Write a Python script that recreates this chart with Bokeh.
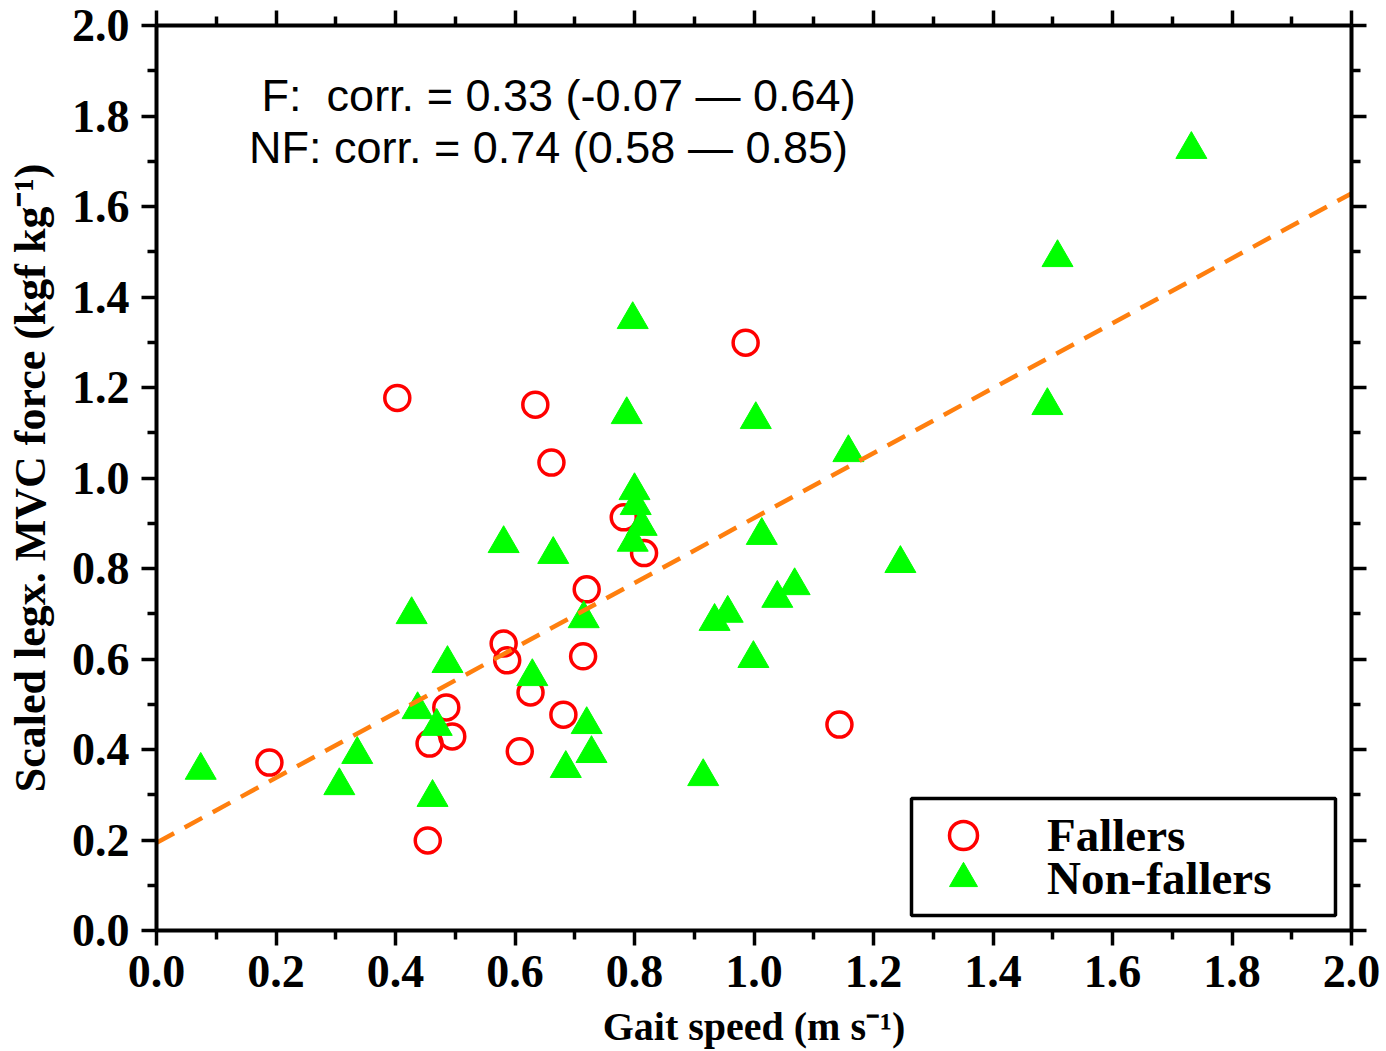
from bokeh.plotting import figure
from bokeh.models import (Range1d, FixedTicker, LinearAxis, Label, Legend,
                          LegendItem, CustomJSTickFormatter, BoxAnnotation)
from bokeh.embed import file_html
from bokeh.resources import INLINE

# ---------------- data ----------------
fallers_x = [0.189, 0.403, 0.454, 0.457, 0.485, 0.495, 0.581, 0.587, 0.608, 0.626,
             0.634, 0.661, 0.681, 0.714, 0.720, 0.782, 0.816, 0.986, 1.143]
fallers_y = [0.371, 1.177, 0.199, 0.413, 0.493, 0.429, 0.634, 0.597, 0.396, 0.526,
             1.162, 1.034, 0.477, 0.606, 0.754, 0.913, 0.834, 1.299, 0.455]

nonfallers_x = [0.074, 0.306, 0.336, 0.427, 0.437, 0.469, 0.462, 0.487, 0.581, 0.629,
                0.664, 0.685, 0.715, 0.720, 0.728, 0.787, 0.797, 0.800, 0.802, 0.812,
                0.797, 0.915, 0.934, 0.956, 0.999, 1.003, 1.013, 1.039, 1.068, 1.158,
                1.245, 1.491, 1.508, 1.732]
nonfallers_y = [0.354, 0.320, 0.389, 0.698, 0.488, 0.451, 0.294, 0.590, 0.855, 0.561,
                0.831, 0.358, 0.689, 0.455, 0.391, 1.140, 1.350, 0.972, 0.939, 0.893,
                0.858, 0.340, 0.683, 0.701, 0.601, 1.129, 0.873, 0.734, 0.762, 1.056,
                0.811, 1.160, 1.487, 1.726]

fit_x = [0.0, 2.0]
fit_y = [0.194, 1.629]

tick_values = [0.0, 0.2, 0.4, 0.6, 0.8, 1.0, 1.2, 1.4, 1.6, 1.8, 2.0]
tick_labels = ["0.0", "0.2", "0.4", "0.6", "0.8", "1.0", "1.2", "1.4", "1.6", "1.8", "2.0"]
minor_values = [0.1, 0.3, 0.5, 0.7, 0.9, 1.1, 1.3, 1.5, 1.7, 1.9]

annotation_lines = ["F:\u00a0 corr. = 0.33 (-0.07 \u2014 0.64)",
                    "NF: corr. = 0.74 (0.58 \u2014 0.85)"]
series_names = ["Fallers", "Non-fallers"]
x_title = "Gait speed (m s\u207b\u00b9)"
y_title = "Scaled legx. MVC force (kgf kg\u207b\u00b9)"

SERIF = "Liberation Serif"
SANS = "Liberation Sans"

p = figure(frame_width=1195, frame_height=905,
           x_range=Range1d(0, 2), y_range=Range1d(0, 2),
           output_backend="svg", toolbar_location=None,
           min_border_left=156, min_border_top=25, min_border_right=35,
           min_border_bottom=115)
p.xgrid.visible = False
p.ygrid.visible = False
p.outline_line_color = None
p.background_fill_color = "white"


def style_axis(ax, show_labels):
    ax.ticker = FixedTicker(ticks=tick_values, minor_ticks=minor_values)
    ax.axis_line_width = 4
    ax.axis_line_color = "black"
    ax.major_tick_line_width = 3.5
    ax.minor_tick_line_width = 3.5
    ax.major_tick_in = 0
    ax.major_tick_out = 15
    ax.minor_tick_in = 0
    ax.minor_tick_out = 9
    if show_labels:
        ax.major_label_overrides = dict(zip(tick_values, tick_labels))
        ax.major_label_text_font = SERIF
        ax.major_label_text_font_style = "bold"
        ax.major_label_text_font_size = "46px"
        ax.major_label_text_color = "black"
        ax.axis_label_text_font = SERIF
        ax.axis_label_text_font_style = "bold"
        ax.axis_label_text_color = "black"
    else:
        ax.formatter = CustomJSTickFormatter(code="return ''")
        ax.major_label_text_font_size = "0px"
        ax.major_label_standoff = 0


xa = p.xaxis[0]
ya = p.yaxis[0]
style_axis(xa, True)
style_axis(ya, True)
xa.axis_label = x_title
xa.axis_label_text_font_size = "40px"
xa.major_label_standoff = 10
xa.axis_label_standoff = 14
ya.axis_label = y_title
ya.axis_label_text_font_size = "44px"
ya.major_label_standoff = 12
ya.axis_label_standoff = 14

top_ax = LinearAxis()
right_ax = LinearAxis()
style_axis(top_ax, False)
style_axis(right_ax, False)
p.add_layout(top_ax, "above")
p.add_layout(right_ax, "right")

r_f = p.scatter(fallers_x, fallers_y, marker="circle", size=25,
                fill_color=None, line_color="#ff0000", line_width=3.5)
r_nf = p.scatter(nonfallers_x, nonfallers_y, marker="triangle", size=31,
                 fill_color="#00ff00", line_color="#00ff00", line_width=1,
                 line_join="round")
p.line(fit_x, fit_y, line_color="#ff7f0e", line_width=4.5, line_dash="20 12")

ann_x = [0.673, 0.656]
ann_y = [1.845, 1.730]
for t, ax_, ay_ in zip(annotation_lines, ann_x, ann_y):
    p.add_layout(Label(x=ax_, y=ay_, text=t, text_align="center",
                       text_baseline="middle", text_font=SANS,
                       text_font_size="45px", text_color="black"))

# legend frame
p.add_layout(BoxAnnotation(left=1.2636, right=1.9732, bottom=0.0331, top=0.2917,
                           fill_color="white", fill_alpha=1.0,
                           line_color="black", line_width=3.5, line_alpha=1.0))

legend_locs = [(757, 60), (757, 17)]
for name, rend, loc in zip(series_names, [r_f, r_nf], legend_locs):
    lg = Legend(items=[LegendItem(label=name, renderers=[rend])],
                location=loc, glyph_width=100, glyph_height=70,
                label_standoff=34, padding=0, spacing=0, margin=0,
                border_line_color=None, background_fill_alpha=0.0,
                label_text_font=SERIF, label_text_font_style="bold",
                label_text_font_size="47px", label_text_color="black")
    p.add_layout(lg)

open("out.html", "w").write(file_html(p, INLINE))
